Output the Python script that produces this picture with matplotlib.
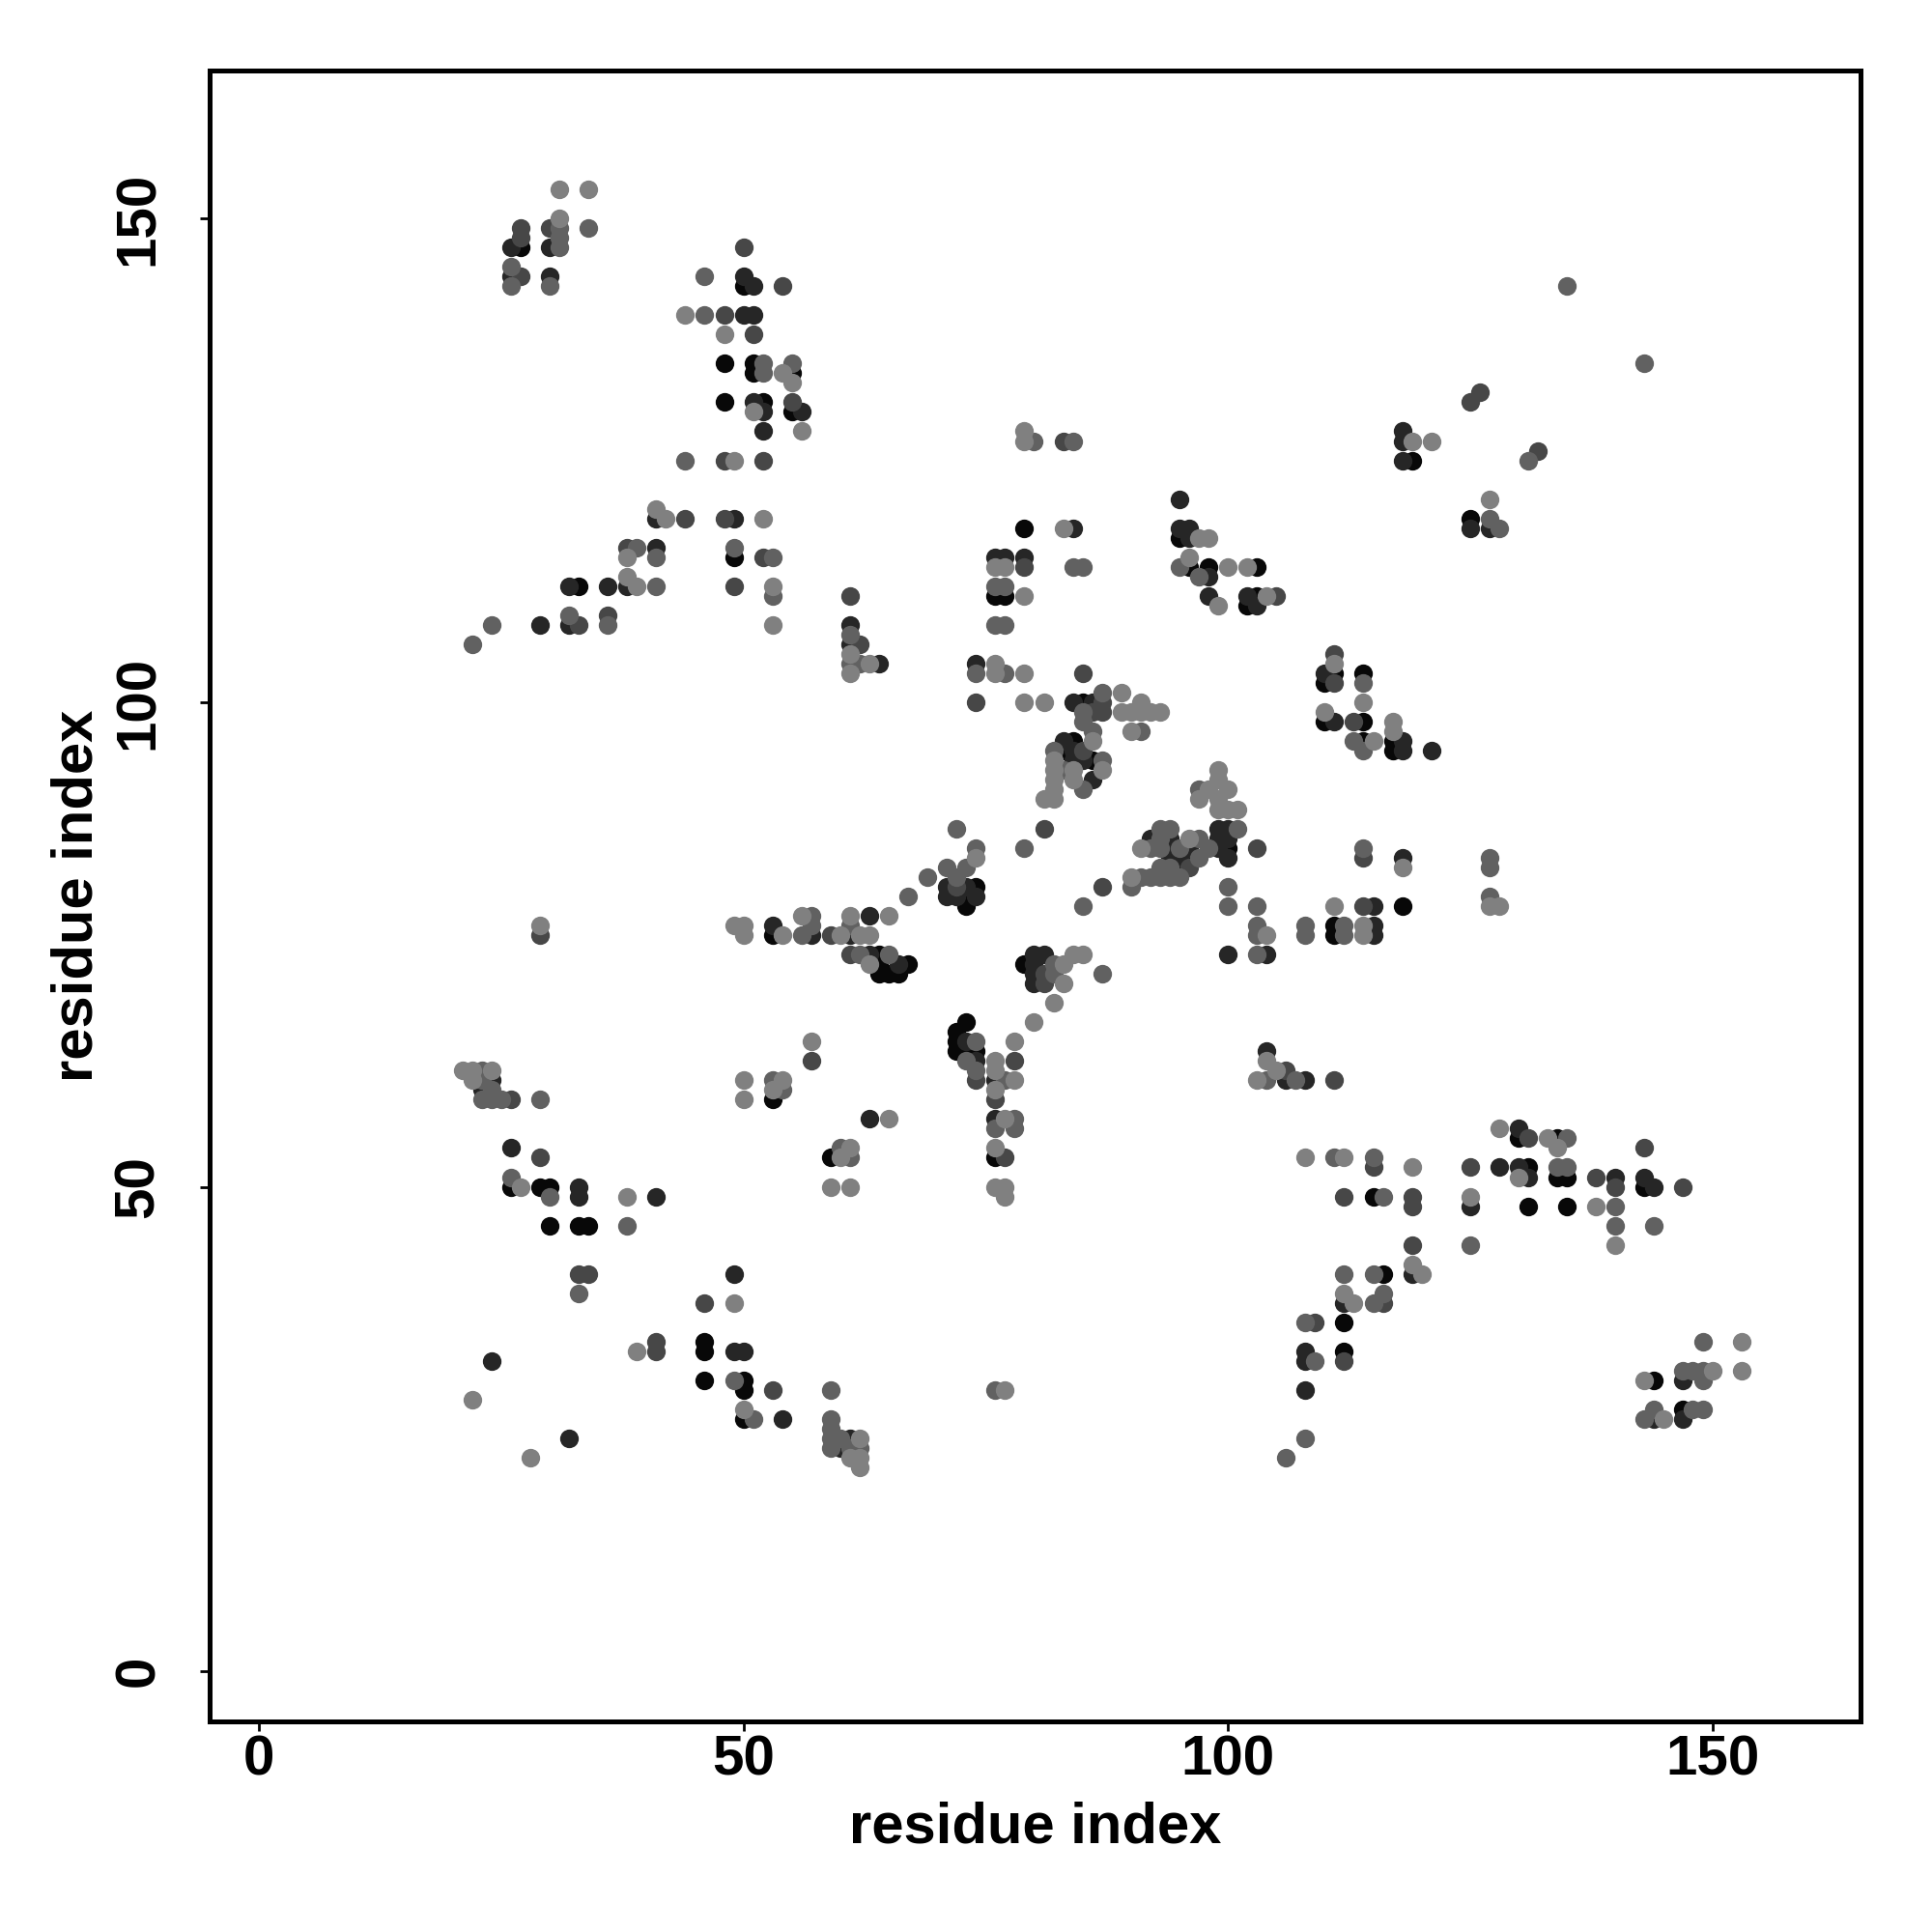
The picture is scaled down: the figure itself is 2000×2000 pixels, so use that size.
import matplotlib
matplotlib.use("Agg")
import matplotlib.pyplot as plt

# contact points: (residue i, residue j, shade level 0=black .. 4=light gray)
upper_left = [
    (31,153,4),(34,153,4),(27,149,2),(27,148,2),(26,147,1),(27,147,0),
    (30,149,2),(31,150,4),(31,149,3),(31,148,3),(31,147,3),(30,147,1),(34,149,3),
    (26,145,3),(26,144,1),(27,144,2),(26,143,3),(30,144,1),(30,143,3),
    (50,147,2),(46,144,3),(50,144,1),(50,143,0),(51,143,1),(54,143,2),
    (44,140,4),(46,140,3),(48,140,2),(50,140,1),(51,140,1),(48,138,4),(51,138,2),
    (48,135,0),(51,135,0),(52,135,3),(51,134,0),(52,134,3),(54,134,4),(55,135,3),(55,134,0),(55,133,4),
    (48,131,0),(51,131,1),(52,131,0),(51,130,4),(52,130,1),(55,131,2),(55,130,0),(56,130,1),
    (52,128,1),(56,128,4),(44,125,3),(48,125,2),(49,125,4),(52,125,2),
    (41,120,4),(41,119,1),(42,119,4),(44,119,2),(48,119,2),(49,119,1),(52,119,4),
    (38,116,2),(39,116,3),(38,115,4),(41,116,1),(41,115,3),(49,116,3),(49,115,0),(52,115,2),(53,115,3),
    (32,112,1),(33,112,0),(36,112,1),(38,113,4),(38,112,1),(39,112,4),(41,112,3),(49,112,2),
    (53,112,4),(53,111,3),(61,111,2),
    (24,108,3),(22,106,3),(29,108,1),(32,109,3),(32,108,1),(33,108,2),(36,109,2),(36,108,3),(53,108,4),
    (61,108,1),(61,107,3),(61,106,1),(62,106,2),(61,105,4),(61,104,3),(62,104,3),(63,104,4),(64,104,1),(61,103,4),
]

middle_left = [
    (29,77,4),(29,76,2),(49,77,4),(50,77,4),(50,76,4),(53,77,1),(53,76,0),(54,76,4),
    (56,78,4),(57,78,3),(56,76,3),(57,77,3),(57,76,1),(59,76,2),(60,76,4),(61,78,4),(61,77,3),
    (61,76,1),(62,76,4),(63,78,1),(63,76,4),(65,78,4),
    (61,74,2),(62,74,3),(63,74,1),(64,74,0),(63,73,4),(64,73,0),(64,72,0),(65,74,3),
    (66,73,1),(67,73,0),(65,72,0),(66,72,0),
    (21,62,4),(22,62,4),(23,62,3),(24,62,4),(22,61,4),(23,61,3),(24,61,1),(23,60,1),(24,60,3),
    (23,59,3),(24,59,3),(25,59,3),(26,59,2),(29,59,3),
    (57,65,4),(57,63,2),(50,61,4),(50,59,4),(53,61,3),(54,61,4),(53,60,4),(54,60,3),(53,59,0),
    (63,57,1),(65,57,4),(59,53,0),(60,54,3),(61,54,4),(60,53,4),(61,53,3),(59,50,4),(61,50,4),
]

lower_left = [
    (26,54,1),(29,53,2),(26,51,3),(26,50,0),(27,50,4),(29,50,0),(30,50,0),(30,49,3),(33,50,1),(33,49,1),
    (38,49,4),(41,49,1),(30,46,0),(33,46,0),(34,46,0),(38,46,3),(33,41,2),(34,41,2),(33,39,3),
    (49,41,1),(46,38,2),(49,38,4),(39,33,4),(41,34,2),(41,33,2),(46,34,0),(46,33,0),(49,33,1),(50,33,1),
    (46,30,0),(49,30,3),(50,30,0),(50,29,0),(53,29,2),(59,29,3),(50,27,4),(50,26,0),(51,26,3),(54,26,1),
    (24,32,1),(22,28,4),(32,24,1),(28,22,4),
    (59,26,3),(59,25,3),(59,24,3),(59,23,3),(60,24,3),(60,23,1),(61,24,1),(61,23,3),(61,22,4),
    (62,24,4),(62,23,3),(62,22,4),(62,21,4),
]

upper_middle = [
    (79,128,4),(79,127,4),(80,127,3),(83,127,2),(84,127,3),(95,121,1),(79,118,0),(83,118,4),(84,118,1),
    (95,118,1),(96,118,1),(95,117,0),(96,117,1),(97,117,4),(98,117,4),
    (76,115,1),(77,115,1),(79,115,1),(76,114,4),(77,114,4),(79,114,2),(76,112,3),(77,112,3),
    (76,111,0),(77,111,0),(79,111,4),(84,114,3),(85,114,3),
    (96,115,4),(95,114,3),(96,114,0),(98,114,0),(97,113,3),(98,113,1),(100,114,4),(102,114,4),(103,114,0),
    (98,111,1),(99,110,4),(102,111,1),(103,111,0),(104,111,4),(105,111,2),(102,110,0),(103,110,1),
    (76,108,3),(77,108,3),(74,104,1),(74,103,3),(76,104,4),(76,103,4),(77,103,3),(79,103,4),
    (74,100,2),(79,100,4),(81,100,4),(85,103,2),
]

center = [
    (84,100,1),(85,100,0),(86,100,1),(87,101,3),(87,100,2),(86,99,2),(87,99,2),(85,99,3),
    (89,101,4),(89,99,4),(90,99,4),(91,100,4),(91,99,4),(92,99,4),(93,99,4),(90,97,4),(91,97,3),
    (85,98,3),(86,97,3),(86,96,4),(83,96,1),(84,96,0),(83,95,0),(84,95,1),(85,95,2),(82,95,3),
    (86,94,0),(85,94,1),(84,94,1),(87,94,3),(87,93,4),(86,92,1),(85,91,3),(82,94,4),(82,93,4),
    (83,93,3),(84,93,4),(82,92,4),(82,91,4),(81,90,4),(82,90,4),(84,92,4),
    (99,93,4),(97,91,3),(98,91,4),(99,92,4),(100,91,4),(97,90,4),(99,90,4),(99,89,4),(100,89,4),(101,89,4),
    (99,87,1),(100,87,1),(101,87,3),(99,86,1),(100,86,1),(100,85,0),(100,84,1),(99,85,1),(98,85,3),(103,85,2),
    (93,87,3),(94,87,3),(92,86,1),(93,86,3),(94,86,1),(96,86,4),(97,86,3),(91,85,4),(92,85,3),(93,85,3),
    (94,85,1),(95,85,3),(96,85,1),(94,84,1),(95,84,1),(96,84,0),(97,84,3),(93,83,3),(94,83,3),(95,83,0),
    (96,83,2),(90,82,4),(91,82,3),(92,82,3),(93,82,3),(94,82,3),(95,82,3),(90,81,3),
    (87,81,2),(85,79,3),(100,81,3),(100,79,3),(103,79,3),(103,77,3),(103,76,3),(104,76,4),
    (100,74,1),(103,74,3),(104,74,1),
    (72,87,3),(74,85,3),(74,84,4),(79,85,3),(81,87,2),(69,82,3),(71,83,3),(73,83,3),(67,80,3),
    (71,81,1),(72,82,3),(72,81,2),(73,81,1),(74,81,0),(71,80,1),(72,80,1),(73,80,0),(74,80,1),(73,79,0),
    (79,73,0),(80,74,1),(81,74,1),(80,73,1),(80,72,1),(81,72,2),(82,72,3),(83,73,4),(82,73,3),(83,71,4),
    (80,71,1),(81,71,2),(84,74,4),(85,74,4),(87,72,3),(82,69,4),(80,67,4),
]

lower_middle = [
    (73,67,0),(72,66,0),(72,65,0),(72,64,0),(73,65,1),(73,64,0),(74,65,3),(74,64,0),(73,63,3),
    (74,63,1),(74,62,3),(74,61,2),(78,65,4),(78,63,2),(78,61,4),(76,63,4),(76,62,4),(76,61,1),
    (77,61,3),(76,60,4),(76,59,2),(76,57,1),(77,57,4),(78,57,3),(76,56,3),(78,56,3),
    (76,54,4),(76,53,0),(77,53,2),(76,50,4),(77,50,4),(77,49,4),(76,29,3),(77,29,4),
    (104,64,1),(104,63,4),(103,61,4),(104,61,3),(105,62,4),(106,62,2),(106,61,1),(107,61,3),(108,61,1),
    (108,53,4),(108,36,3),(108,33,1),(108,32,1),(108,29,1),(108,24,3),(106,22,3),
]

upper_right = [
    (135,143,3),(143,135,3),(126,132,2),(125,131,2),(118,128,1),(118,127,1),(119,127,4),(121,127,4),
    (118,125,1),(119,125,0),(132,126,2),(131,125,3),(127,121,4),(125,119,0),(125,118,1),(127,119,3),
    (127,118,1),(128,118,3),
    (111,105,2),(111,104,4),(110,103,1),(111,103,0),(110,102,0),(111,102,2),(114,103,0),(114,102,3),
    (114,100,4),(110,99,4),(110,98,0),(111,98,1),(113,98,2),(114,98,0),(113,96,3),(114,96,0),(115,96,4),
    (114,95,3),(117,98,4),(117,97,4),(117,96,0),(118,96,1),(117,95,0),(118,95,1),(121,95,1),
    (114,85,3),(114,84,2),(118,84,1),(118,83,4),(127,84,3),(127,83,3),(127,80,3),(127,79,4),(128,79,4),
    (111,79,4),(114,79,2),(115,79,1),(118,79,0),(108,77,3),(108,76,3),
    (111,77,0),(111,76,0),(112,77,3),(112,76,3),(114,77,4),(114,76,4),(115,77,1),(115,76,1),
]

lower_right = [
    (111,61,2),(111,53,3),(112,53,4),(115,53,3),(115,52,2),(119,52,4),
    (112,49,2),(115,49,0),(116,49,3),(119,49,2),(119,48,2),(119,44,2),(125,44,3),
    (125,52,2),(125,49,4),(125,48,1),
    (128,56,4),(130,56,1),(130,55,0),(131,55,2),(133,55,4),(134,55,0),(135,55,3),(134,54,4),
    (128,52,1),(130,52,1),(131,52,0),(130,51,4),(131,51,1),(134,52,3),(135,52,3),(134,51,0),(135,51,0),
    (138,51,2),(140,51,1),(140,50,2),(143,54,2),(143,51,1),(143,50,0),(144,50,1),(147,50,2),
    (131,48,0),(135,48,0),(138,48,4),(140,48,3),(140,46,3),(140,44,4),(144,46,3),
    (112,41,3),(115,41,3),(116,41,0),(119,42,4),(119,41,1),(120,41,4),
    (112,39,4),(112,38,1),(113,38,4),(115,38,3),(116,39,3),(116,38,2),
    (109,36,2),(112,36,0),(109,32,3),(112,33,0),(112,32,2),
    (149,34,3),(153,34,4),(153,31,4),(143,30,4),(144,30,0),(147,31,3),(148,31,3),(149,31,3),(150,31,4),
    (147,30,1),(149,30,3),(143,26,3),(144,27,3),(144,26,1),(145,26,4),(147,27,0),(148,27,3),(149,27,3),
    (147,26,1),
]

gray_levels = [0.03, 0.15, 0.28, 0.38, 0.5]

contacts = (upper_left + middle_left + lower_left + upper_middle + center +
            lower_middle + upper_right + lower_right)

plt.rcParams['font.family'] = ['Liberation Sans', 'DejaVu Sans']
plt.rcParams['font.weight'] = 'bold'

fig = plt.figure(figsize=(20, 20), dpi=100)
ax = fig.add_axes([0.1085, 0.109, 0.8545, 0.8545])

for level in range(len(gray_levels)):
    xs = [c[0] for c in contacts if c[2] == level]
    ys = [c[1] for c in contacts if c[2] == level]
    g = gray_levels[level]
    ax.plot(xs, ys, 'o', markersize=13.9, markeredgewidth=0, color=(g, g, g))

ax.set_xlim(-5.1, 165.3)
ax.set_ylim(-5.2, 165.25)
ax.set_xticks([0, 50, 100, 150])
ax.set_yticks([0, 50, 100, 150])
for s in ax.spines.values():
    s.set_linewidth(3.6)
ax.tick_params(axis='both', length=7, width=2, labelsize=42)
ax.tick_params(axis='x', pad=3)
ax.tick_params(axis='y', pad=26)
for lab in ax.get_yticklabels():
    lab.set_rotation(90)
    lab.set_va('center')
    lab.set_fontweight('bold')
for lab in ax.get_xticklabels():
    lab.set_fontweight('bold')

ax.set_xlabel('residue index', fontsize=43, fontweight='bold')
ax.set_ylabel('residue index', fontsize=43, fontweight='bold')
ax.xaxis.label.set_va('center')
ax.yaxis.label.set_va('center')
ax.xaxis.set_label_coords(0.5, -0.0644)
ax.yaxis.set_label_coords(-0.0802, 0.5)

fig.savefig('out.png', dpi=100, facecolor='white')
